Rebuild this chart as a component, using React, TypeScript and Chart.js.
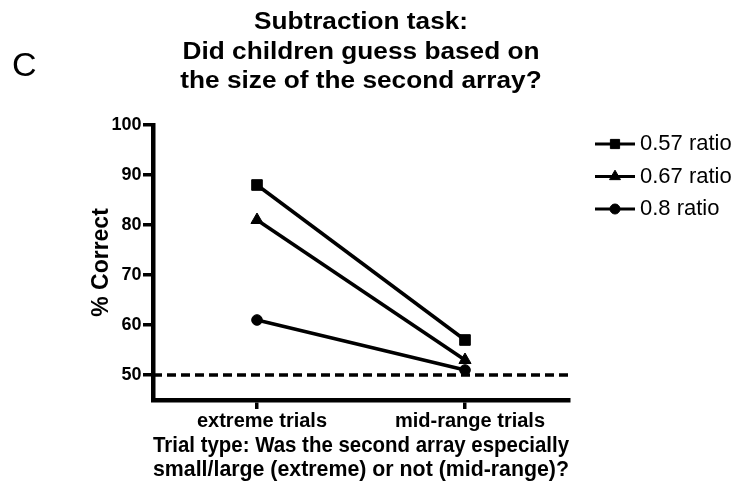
import React, { useEffect, useRef } from 'react';
import { Chart, registerables } from 'chart.js';

Chart.register(...registerables);

// ---- data ----
const CATEGORIES = ['extreme trials', 'mid-range trials'];
const SERIES_LABELS = ['0.57 ratio', '0.67 ratio', '0.8 ratio'];
const RATIO_057 = [88, 57];
const RATIO_067 = [81, 53];
const RATIO_080 = [61, 51];
const SERIES = [RATIO_057, RATIO_067, RATIO_080];
const POINT_STYLES = ['rect', 'triangle', 'circle'];
const Y_TICKS = [50, 60, 70, 80, 90, 100];
const Y_MIN = 45;
const Y_MAX = 100;
const CHANCE = 50;
const TITLE_LINES = ['Subtraction task:', 'Did children guess based on', 'the size of the second array?'];
const PANEL_LABEL = 'C';
const Y_TITLE = '% Correct';
const X_TITLE = ['Trial type: Was the second array especially', 'small/large (extreme) or not (mid-range)?'];

const FONT = "'Liberation Sans', Arial, Helvetica, sans-serif";
const MARKER_R: Record<string, number> = { rect: 7.5, triangle: 7, circle: 5.3 };
const LEGEND_R: Record<string, number> = { rect: 6.5, triangle: 6.3, circle: 5 };

function drawMarker(ctx: CanvasRenderingContext2D, style: string, x: number, y: number, r: number) {
  ctx.beginPath();
  if (style === 'rect') {
    const s = r * Math.SQRT1_2;
    ctx.rect(x - s, y - s, 2 * s, 2 * s);
  } else if (style === 'triangle') {
    for (let i = 0; i < 3; i++) {
      const a = (i * 2 * Math.PI) / 3;
      const px = x + Math.sin(a) * r;
      const py = y - Math.cos(a) * r;
      if (i === 0) ctx.moveTo(px, py);
      else ctx.lineTo(px, py);
    }
    ctx.closePath();
  } else {
    ctx.arc(x, y, r, 0, Math.PI * 2);
  }
  ctx.fill();
  ctx.stroke();
}

const decorPlugin = {
  id: 'decor',
  beforeDatasetsDraw(chart: any) {
    const { ctx, chartArea, scales } = chart;
    const y = scales.y.getPixelForValue(CHANCE);
    ctx.save();
    ctx.strokeStyle = '#000';
    ctx.lineWidth = 3.5;
    ctx.setLineDash([9, 5]);
    ctx.beginPath();
    ctx.moveTo(chartArea.left, y);
    ctx.lineTo(chartArea.right, y);
    ctx.stroke();
    ctx.restore();
  },
  afterDraw(chart: any) {
    const { ctx, chartArea } = chart;
    ctx.save();
    ctx.fillStyle = '#000';
    // title (slightly widened like the original figure)
    const cx = (chartArea.left + chartArea.right) / 2;
    ctx.save();
    ctx.translate(cx, 0);
    ctx.scale(1.14, 1);
    ctx.font = `bold 23px ${FONT}`;
    ctx.textAlign = 'center';
    ctx.textBaseline = 'alphabetic';
    TITLE_LINES.forEach((t, i) => ctx.fillText(t, 0, 29 + i * 29.5));
    ctx.restore();
    // panel label
    ctx.font = `34px ${FONT}`;
    ctx.textAlign = 'left';
    ctx.textBaseline = 'alphabetic';
    ctx.fillText(PANEL_LABEL, 12, 76);
    // legend
    ctx.font = `22px ${FONT}`;
    ctx.textBaseline = 'middle';
    chart.data.datasets.forEach((ds: any, i: number) => {
      const y = 144 + i * 32.5;
      ctx.strokeStyle = '#000';
      ctx.lineWidth = 3;
      ctx.beginPath();
      ctx.moveTo(595, y);
      ctx.lineTo(635, y);
      ctx.stroke();
      ctx.lineWidth = 1;
      drawMarker(ctx, ds.pointStyle, 615, y, LEGEND_R[ds.pointStyle]);
      ctx.fillText(ds.label, 640, y);
    });
    ctx.restore();
  },
};

export default function App() {
  const ref = useRef<HTMLCanvasElement>(null);
  useEffect(() => {
    const chart = new Chart(ref.current as HTMLCanvasElement, {
      type: 'line',
      data: {
        labels: CATEGORIES,
        datasets: SERIES_LABELS.map((label, i) => ({
          label,
          data: SERIES[i],
          borderColor: '#000',
          backgroundColor: '#000',
          borderWidth: 3.5,
          pointStyle: POINT_STYLES[i] as any,
          pointRadius: MARKER_R[POINT_STYLES[i]],
          pointBackgroundColor: '#000',
          pointBorderColor: '#000',
          pointBorderWidth: 1,
          tension: 0,
          clip: false as any,
        })),
      },
      options: {
        animation: false,
        responsive: true,
        maintainAspectRatio: false,
        layout: { padding: { top: 125, right: 171, bottom: 0, left: 0 } },
        plugins: {
          legend: { display: false },
          title: { display: false },
          tooltip: { enabled: false },
        },
        scales: {
          x: {
            type: 'category',
            offset: true,
            grid: {
              display: true,
              drawOnChartArea: false,
              drawTicks: true,
              tickLength: 9,
              tickWidth: 3.5,
              tickColor: '#000',
              color: '#000',
              lineWidth: 3.5,
            },
            border: { display: true, color: '#000', width: 4.5 },
            ticks: {
              color: '#000',
              font: { family: FONT, size: 20, weight: 'bold' },
              padding: 0,
              labelOffset: 5,
              maxRotation: 0,
              autoSkip: false,
            },
            title: {
              display: true,
              text: X_TITLE,
              color: '#000',
              font: { family: FONT, size: 22, weight: 'bold', lineHeight: '24px' },
              padding: { top: 0, bottom: 13 },
            },
            afterFit: (s: any) => {
              s.height = 95;
            },
          },
          y: {
            min: Y_MIN,
            max: Y_MAX,
            afterBuildTicks: (s: any) => {
              s.ticks = Y_TICKS.map((v) => ({ value: v }));
            },
            grid: {
              drawOnChartArea: false,
              tickLength: 10,
              tickWidth: 3.5,
              tickColor: '#000',
              color: '#000',
              lineWidth: 3.5,
            },
            border: { display: true, color: '#000', width: 4.5 },
            ticks: {
              color: '#000',
              font: { family: FONT, size: 18, weight: 'bold' },
              padding: 1.5,
            },
            title: {
              display: true,
              text: Y_TITLE,
              color: '#000',
              font: { family: FONT, size: 23, weight: 'bold' },
              padding: { top: 88, bottom: 0 },
            },
            afterFit: (s: any) => {
              s.width = 153;
            },
          },
        },
      } as any,
      plugins: [decorPlugin],
    });
    return () => chart.destroy();
  }, []);
  return (
    <div style={{ position: 'absolute', left: 0, top: 0, width: 740, height: 495 }}>
      <canvas ref={ref} />
    </div>
  );
}
